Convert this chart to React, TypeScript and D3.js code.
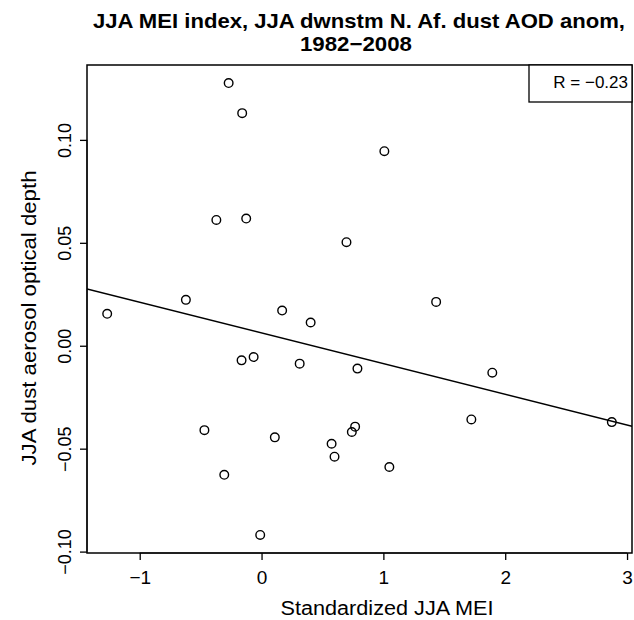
import * as d3 from "d3";
import { useEffect, useRef } from "react";

// valores (1982-2008)
const mei = [
  -0.27, -0.159, 1.008, -0.371, -0.126, 0.697, -0.621, -1.267, 0.169, 0.403,
  -0.164, -0.065, 0.313, 0.787, -0.469, 0.109, 0.768, 0.741, 0.575, 0.599,
  1.049, -0.306, -0.011, 1.433, 1.894, 1.722, 2.875,
];
const aod = [
  0.1276, 0.113, 0.0945, 0.0611, 0.0618, 0.0503, 0.0223, 0.0155, 0.0171,
  0.0113, -0.0071, -0.0055, -0.0087, -0.0111, -0.041, -0.0445, -0.0393,
  -0.0419, -0.0476, -0.0539, -0.0589, -0.0627, -0.0919, 0.0213, -0.0131,
  -0.0358, -0.0371,
];
const xTicks = [-1, 0, 1, 2, 3];
const yTicks = [-0.1, -0.05, 0, 0.05, 0.1];
const ajuste = { intercepto: 0.0062, pendiente: -0.0149 };
const titulo = ["JJA MEI index, JJA dwnstm N. Af. dust AOD anom,", "1982\u22122008"];
const etiquetaR = "R = \u22120.23";

const ancho = 634;
const alto = 620;
const margin = { top: 65, right: 2, bottom: 67, left: 87 };
const fuente = "'Liberation Sans', Arial, Helvetica, sans-serif";

const menos = (s: string) => s.replace("-", "\u2212");

export default function App() {
  const ref = useRef<SVGSVGElement>(null);

  useEffect(() => {
    if (!ref.current) return;
    const svg = d3.select(ref.current);
    svg.selectAll("*").remove();

    // rango estilo R: 4% extra a cada lado
    const [x0, x1] = d3.extent(mei) as [number, number];
    const [y0, y1] = d3.extent(aod) as [number, number];
    const dx = (x1 - x0) * 0.04;
    const dy = (y1 - y0) * 0.04;

    const x = d3
      .scaleLinear()
      .domain([x0 - dx, x1 + dx])
      .range([margin.left, ancho - margin.right]);
    const y = d3
      .scaleLinear()
      .domain([y0 - dy, y1 + dy])
      .range([alto - margin.bottom, margin.top]);

    const g = svg.append("g").attr("font-family", fuente).attr("fill", "#000");

    // titulo
    g.append("text")
      .attr("x", 359)
      .attr("y", 27.5)
      .attr("text-anchor", "middle")
      .attr("font-weight", "bold")
      .attr("font-size", 21)
      .attr("textLength", 532)
      .attr("lengthAdjust", "spacingAndGlyphs")
      .text(titulo[0]);
    g.append("text")
      .attr("x", 356)
      .attr("y", 50.5)
      .attr("text-anchor", "middle")
      .attr("font-weight", "bold")
      .attr("font-size", 21)
      .attr("textLength", 112)
      .attr("lengthAdjust", "spacingAndGlyphs")
      .text(titulo[1]);

    // eje x
    const ejeX = g
      .append("g")
      .attr("transform", `translate(0,${alto - margin.bottom})`)
      .call(
        d3
          .axisBottom(x)
          .tickValues(xTicks)
          .tickSize(7)
          .tickPadding(11)
          .tickFormat((d) => menos(d3.format("d")(d as number)))
      );
    ejeX.select(".domain").attr("d", `M${x(-1)},0H${x(3)}`);
    ejeX.selectAll("line").attr("stroke-width", 1.3);
    ejeX.selectAll("text").attr("font-size", 19).attr("font-family", fuente);

    // eje y
    const ejeY = g
      .append("g")
      .attr("transform", `translate(${margin.left},0)`)
      .call(
        d3
          .axisLeft(y)
          .tickValues(yTicks)
          .tickSize(7)
          .tickFormat((d) => menos(d3.format(".2f")(d as number)))
      );
    ejeY.select(".domain").attr("d", `M0,${y(-0.1)}V${y(0.1)}`);
    ejeY.selectAll("line").attr("stroke-width", 1.3);
    ejeY
      .selectAll("text")
      .attr("font-size", 18)
      .attr("font-family", fuente)
      .attr("x", null)
      .attr("dy", null)
      .attr("text-anchor", "middle")
      .attr("transform", "translate(-16.5,0) rotate(-90)");

    // etiquetas de ejes
    g.append("text")
      .attr("x", 387)
      .attr("y", 615)
      .attr("text-anchor", "middle")
      .attr("font-size", 20)
      .attr("textLength", 213)
      .attr("lengthAdjust", "spacingAndGlyphs")
      .text("Standardized JJA MEI");
    g.append("text")
      .attr("transform", `translate(36,318) rotate(-90)`)
      .attr("text-anchor", "middle")
      .attr("font-size", 20.5)
      .attr("textLength", 295)
      .attr("lengthAdjust", "spacingAndGlyphs")
      .text("JJA dust aerosol optical depth");

    // recta de regresion, recortada al area
    svg
      .append("clipPath")
      .attr("id", "area")
      .append("rect")
      .attr("x", margin.left)
      .attr("y", margin.top)
      .attr("width", ancho - margin.right - margin.left)
      .attr("height", alto - margin.bottom - margin.top);
    const [xa, xb] = x.domain();
    g.append("line")
      .attr("clip-path", "url(#area)")
      .attr("x1", x(xa))
      .attr("x2", x(xb))
      .attr("y1", y(ajuste.intercepto + ajuste.pendiente * xa))
      .attr("y2", y(ajuste.intercepto + ajuste.pendiente * xb))
      .attr("stroke", "#000")
      .attr("stroke-width", 1.5);

    // puntos
    g.selectAll("circle.pt")
      .data(d3.zip(mei, aod))
      .join("circle")
      .attr("class", "pt")
      .attr("cx", (d) => x(d[0]))
      .attr("cy", (d) => y(d[1]))
      .attr("r", 4.3)
      .attr("fill", "none")
      .attr("stroke", "#000")
      .attr("stroke-width", 1.4);

    // marco
    g.append("rect")
      .attr("x", margin.left)
      .attr("y", margin.top)
      .attr("width", ancho - margin.right - margin.left)
      .attr("height", alto - margin.bottom - margin.top)
      .attr("fill", "none")
      .attr("stroke", "#000")
      .attr("stroke-width", 1.5);

    // leyenda R
    const xr = ancho - margin.right;
    g.append("rect")
      .attr("x", 529)
      .attr("y", margin.top)
      .attr("width", xr - 529)
      .attr("height", 37)
      .attr("fill", "#fff")
      .attr("stroke", "#000")
      .attr("stroke-width", 1.3);
    g.append("text")
      .attr("x", xr - 4)
      .attr("y", 87.5)
      .attr("text-anchor", "end")
      .attr("font-size", 17)
      .text(etiquetaR);
  }, []);

  return (
    <svg
      ref={ref}
      width={ancho}
      height={alto}
      style={{ position: "absolute", left: 0, top: 0, background: "#fff" }}
    />
  );
}
